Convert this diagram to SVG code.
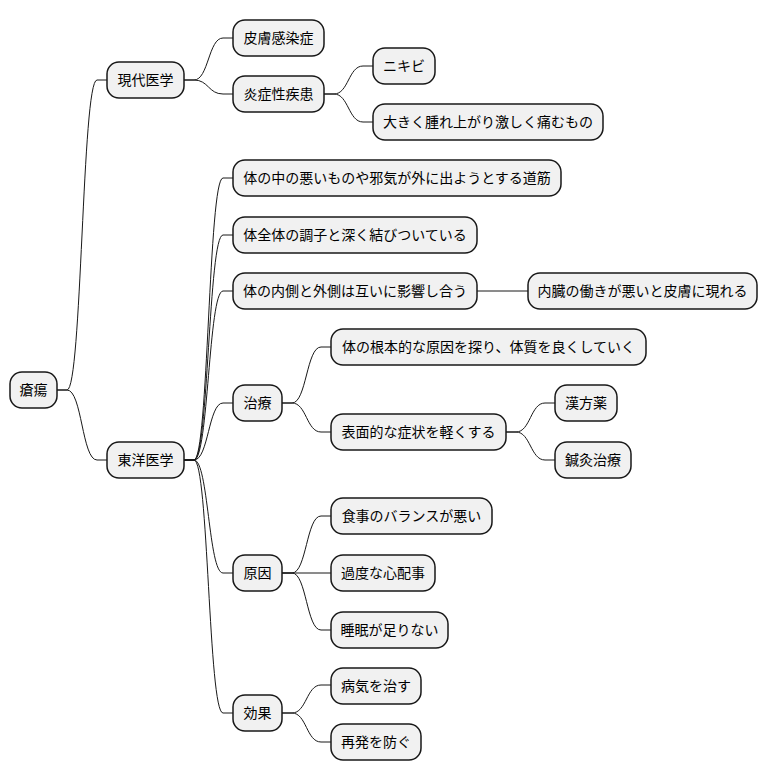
<svg xmlns="http://www.w3.org/2000/svg" width="768" height="781" viewBox="0 0 768 781">
<style>
.n rect{fill:#F1F1F1;stroke:#181818;stroke-width:1.5}
.n text{font-family:"Noto Sans CJK JP","Liberation Sans",sans-serif;font-size:14px;fill:#000;text-anchor:middle}
#edges path{fill:none;stroke:#181818;stroke-width:1}
</style>
<rect width="768" height="781" fill="#FFFFFF"/>
<g id="edges">
<path d="M57,390 L67,390 C82,390 82,80 97,80 L107,80"/>
<path d="M57,390 L67,390 C82,390 82,460 97,460 L107,460"/>
<path d="M184,80 L194,80 C208.5,80 208.5,38 223,38 L233,38"/>
<path d="M184,80 L194,80 C208.5,80 208.5,94 223,94 L233,94"/>
<path d="M324,94 L334,94 C348.5,94 348.5,66 363,66 L373,66"/>
<path d="M324,94 L334,94 C348.5,94 348.5,122 363,122 L373,122"/>
<path d="M184,460 L194,460 C208.5,460 208.5,178 223,178 L233,178"/>
<path d="M184,460 L194,460 C208.5,460 208.5,235 223,235 L233,235"/>
<path d="M184,460 L194,460 C208.5,460 208.5,291 223,291 L233,291"/>
<path d="M184,460 L194,460 C208.5,460 208.5,403 223,403 L233,403"/>
<path d="M184,460 L194,460 C208.5,460 208.5,573 223,573 L233,573"/>
<path d="M184,460 L194,460 C208.5,460 208.5,713 223,713 L233,713"/>
<path d="M477,291 L528,291"/>
<path d="M282,403 L292,403 C306.5,403 306.5,347 321,347 L331,347"/>
<path d="M282,403 L292,403 C306.5,403 306.5,432 321,432 L331,432"/>
<path d="M506,432 L516,432 C530.5,432 530.5,403 545,403 L555,403"/>
<path d="M506,432 L516,432 C530.5,432 530.5,460 545,460 L555,460"/>
<path d="M282,573 L292,573 C306.5,573 306.5,516 321,516 L331,516"/>
<path d="M282,573 L331,573"/>
<path d="M282,573 L292,573 C306.5,573 306.5,630 321,630 L331,630"/>
<path d="M282,713 L292,713 C306.5,713 306.5,685 321,685 L331,685"/>
<path d="M282,713 L292,713 C306.5,713 306.5,742 321,742 L331,742"/>
</g>
<g id="n-root" class="n"><rect x="10" y="372" width="47" height="36" rx="12"/><text x="33.5" y="395">瘡瘍</text></g>
<g id="n-modern" class="n"><rect x="107" y="62" width="77" height="36" rx="12"/><text x="145.5" y="85">現代医学</text></g>
<g id="n-skin" class="n"><rect x="233" y="20" width="91" height="36" rx="12"/><text x="278.5" y="43">皮膚感染症</text></g>
<g id="n-inflam" class="n"><rect x="233" y="76" width="91" height="36" rx="12"/><text x="278.5" y="99">炎症性疾患</text></g>
<g id="n-acne" class="n"><rect x="373" y="48" width="62" height="36" rx="12"/><text x="404" y="71">ニキビ</text></g>
<g id="n-swell" class="n"><rect x="373" y="104" width="230" height="36" rx="12"/><text x="488" y="127">大きく腫れ上がり激しく痛むもの</text></g>
<g id="n-eastern" class="n"><rect x="107" y="442" width="77" height="36" rx="12"/><text x="145.5" y="465">東洋医学</text></g>
<g id="n-path" class="n"><rect x="233" y="160" width="328" height="36" rx="12"/><text x="397" y="183">体の中の悪いものや邪気が外に出ようとする道筋</text></g>
<g id="n-whole" class="n"><rect x="233" y="217" width="244" height="36" rx="12"/><text x="355" y="240">体全体の調子と深く結びついている</text></g>
<g id="n-inout" class="n"><rect x="233" y="273" width="244" height="36" rx="12"/><text x="355" y="296">体の内側と外側は互いに影響し合う</text></g>
<g id="n-organ" class="n"><rect x="528" y="273" width="229" height="36" rx="12"/><text x="642.5" y="296">内臓の働きが悪いと皮膚に現れる</text></g>
<g id="n-treat" class="n"><rect x="233" y="385" width="49" height="36" rx="12"/><text x="257.5" y="408">治療</text></g>
<g id="n-root-cause" class="n"><rect x="331" y="329" width="315" height="36" rx="12"/><text x="488.5" y="352">体の根本的な原因を探り、体質を良くしていく</text></g>
<g id="n-surface" class="n"><rect x="331" y="414" width="175" height="36" rx="12"/><text x="418.5" y="437">表面的な症状を軽くする</text></g>
<g id="n-kampo" class="n"><rect x="555" y="385" width="62" height="36" rx="12"/><text x="586" y="408">漢方薬</text></g>
<g id="n-acu" class="n"><rect x="555" y="442" width="76" height="36" rx="12"/><text x="593" y="465">鍼灸治療</text></g>
<g id="n-cause" class="n"><rect x="233" y="555" width="49" height="36" rx="12"/><text x="257.5" y="578">原因</text></g>
<g id="n-diet" class="n"><rect x="331" y="498" width="161" height="36" rx="12"/><text x="411.5" y="521">食事のバランスが悪い</text></g>
<g id="n-worry" class="n"><rect x="331" y="555" width="104" height="36" rx="12"/><text x="383" y="578">過度な心配事</text></g>
<g id="n-sleep" class="n"><rect x="331" y="612" width="117" height="36" rx="12"/><text x="389.5" y="635">睡眠が足りない</text></g>
<g id="n-effect" class="n"><rect x="233" y="695" width="49" height="36" rx="12"/><text x="257.5" y="718">効果</text></g>
<g id="n-cure" class="n"><rect x="331" y="668" width="90" height="36" rx="12"/><text x="376" y="691">病気を治す</text></g>
<g id="n-prevent" class="n"><rect x="331" y="724" width="90" height="36" rx="12"/><text x="376" y="747">再発を防ぐ</text></g>
</svg>
